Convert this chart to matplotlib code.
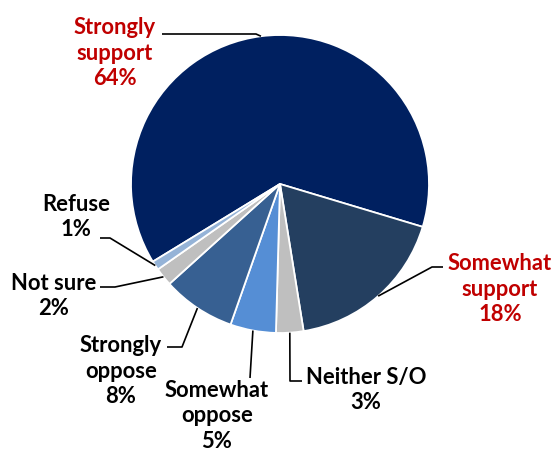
import numpy as np
import matplotlib
matplotlib.use("Agg")
import matplotlib.pyplot as plt

# Survey responses (percent), in clockwise order starting with the largest slice
categories = ["Strongly\nsupport", "Somewhat\nsupport", "Neither S/O", "Somewhat\noppose",
              "Strongly\noppose", "Not sure", "Refuse"]
values = [64, 18, 3, 5, 8, 2, 1]
colors = ["#002060", "#243F60", "#BFBFBF", "#558ED5", "#376092", "#BFBFBF", "#95B3D7"]
label_colors = ["#C00000", "#C00000", "black", "black", "black", "black", "black"]

W, H = 558, 455
fig = plt.figure(figsize=(W / 100, H / 100), dpi=100)
ax = fig.add_axes([0, 0, 1, 1])


def py(y):
    """Convert a top-origin pixel row into data y."""
    return H - y


center = (280, py(184))
radius = 149
wedges, _ = ax.pie(values, colors=colors, startangle=211.4, counterclock=False,
                   center=center, radius=radius, frame=True,
                   wedgeprops=dict(edgecolor="white", linewidth=1.3))
ax.set_xlim(0, W)
ax.set_ylim(0, H)
ax.set_aspect("equal")
ax.axis("off")

# Label block centres and leader-line elbows (top-origin pixels)
label_pos = [(115, 53), (500, 289), (366, 390), (217, 416), (121, 371), (54, 296), (76, 217)]
leader_pts = [
    [(162, 34), (256, 34)],
    [(443, 267), (432, 267)],
    [(302, 381), (290, 381)],
    [(250, 378)],
    [(167, 347), (182, 347)],
    [(100, 287), (115, 287)],
    [(100, 238), (110, 238)],
]

for w, cat, val, (lx, ly), pts, tc in zip(wedges, categories, values, label_pos,
                                          leader_pts, label_colors):
    mid = np.deg2rad((w.theta1 + w.theta2) / 2)
    ax_x = center[0] + radius * np.cos(mid)
    ax_y = center[1] + radius * np.sin(mid)
    xs = [p[0] for p in pts] + [ax_x]
    ys = [py(p[1]) for p in pts] + [ax_y]
    ax.plot(xs, ys, color="black", lw=1.2, solid_capstyle="butt", zorder=3)
    t = ax.text(lx, py(ly), f"{cat}\n{val}%", ha="center", va="center",
                fontsize=15.8, fontweight="bold", family="Lato", color=tc,
                linespacing=1.28)

fig.savefig("out.png", dpi=100)
